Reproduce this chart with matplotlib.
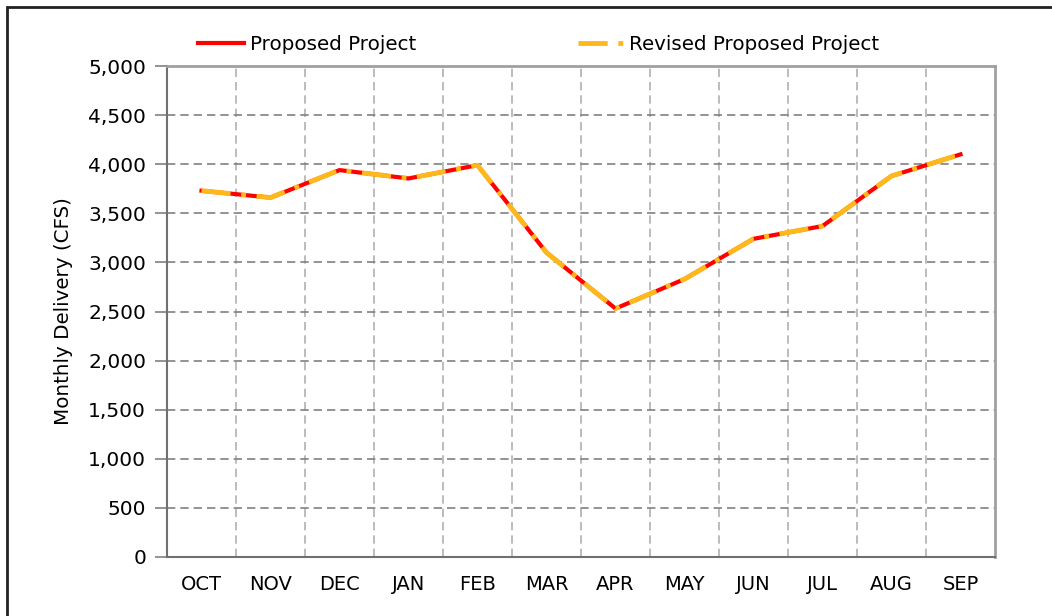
import numpy as np
import matplotlib.pyplot as plt
from matplotlib.patches import Rectangle

months = ["OCT", "NOV", "DEC", "JAN", "FEB", "MAR", "APR", "MAY", "JUN", "JUL", "AUG", "SEP"]
proposed = [3730, 3660, 3940, 3855, 3990, 3100, 2530, 2830, 3240, 3370, 3880, 4100]
revised = [3730, 3660, 3940, 3855, 3990, 3100, 2530, 2830, 3240, 3370, 3880, 4100]

fig = plt.figure(figsize=(10.52, 6.16), dpi=100)
ax = fig.add_axes([167/1052, 59/616, 828/1052, 491/616])

x = np.arange(len(months))
ax.plot(x, proposed, color="#ff0000", lw=3, label="Proposed Project", zorder=3)
ax.plot(x, revised, color="#ffb81c", lw=3.5, dashes=(6, 2.2, 1, 2.2),
        label="Revised Proposed Project", zorder=4)

ax.set_xlim(-0.5, len(months) - 0.5)
ax.set_ylim(0, 5000)
ax.set_yticks(np.arange(0, 5001, 500))
ax.set_yticklabels([f"{v:,}" for v in range(0, 5001, 500)])
ax.set_xticks(x)
ax.set_xticklabels(months)
ax.set_xticks(np.arange(0.5, len(months) - 1, 1), minor=True)
ax.tick_params(axis="x", which="major", length=0, pad=13, labelsize=14)
ax.tick_params(axis="x", which="minor", length=0)
ax.tick_params(axis="y", length=9, width=1.2, color="#808080", pad=6, labelsize=14.5)

ax.yaxis.grid(True, color="#808080", ls=(0, (5, 3)), lw=1.2)
ax.xaxis.grid(True, which="minor", color="#b0b0b0", ls=(0, (5, 3)), lw=1.2)
ax.set_axisbelow(True)

for side in ["left", "bottom"]:
    ax.spines[side].set_color("#707070")
    ax.spines[side].set_linewidth(1.5)
for side in ["top", "right"]:
    ax.spines[side].set_color("#a0a0a0")
    ax.spines[side].set_linewidth(2)

ax.set_ylabel("Monthly Delivery (CFS)", fontsize=14.3, labelpad=11)

fig.legend(loc="upper left", bbox_to_anchor=(190/1052, 1 - 27/616), ncol=2,
           frameon=False, fontsize=14.3, handlelength=2.3, handletextpad=0.3,
           columnspacing=8.15, borderaxespad=0)

fig.patches.append(Rectangle((7/1052, -0.1), 1.2, 1.1 - 7/616, transform=fig.transFigure,
                             fill=False, edgecolor="#222222", lw=2))

fig.savefig("out.png", dpi=100)
